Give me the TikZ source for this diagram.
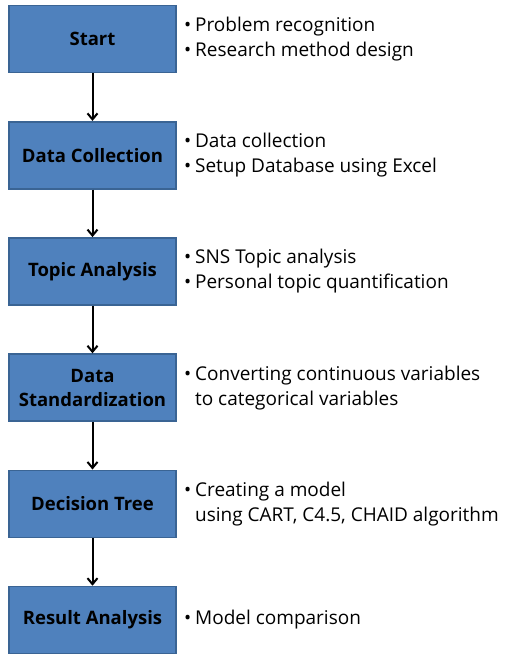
\documentclass[tikz,border=0pt]{standalone}
\usepackage{fontspec}
\setmainfont{Open Sans}
\usepackage{tikz}
\usetikzlibrary{arrows.meta,positioning}
\definecolor{boxfill}{HTML}{4F81BD}
\definecolor{boxline}{HTML}{3A6494}
\tikzset{>={Straight Barb[length=6pt,width=10pt]}}
\tikzset{
  stage/.style={draw=boxline, line width=1.6pt, fill=boxfill, minimum width=167pt,
    minimum height=67pt, align=center, font=\fontsize{18.5}{24}\selectfont\bfseries,
    inner sep=2pt},
  note/.style={anchor=west, align=left, font=\fontsize{19}{25}\selectfont, inner sep=0pt},
  flow/.style={->, line width=2pt}
}
\newcommand{\itm}{\textbullet\hspace{4pt}}
\newcommand{\cnt}{\phantom{\textbullet}\hspace{4pt}}

\begin{document}
\begin{tikzpicture}[x=1pt,y=1pt]
  \useasboundingbox (0,0) rectangle (509,-654);

  \node[stage] (start) at (92.5,-39) {Start};
  \node[stage, below=47.6pt of start] (collect) {Data Collection};
  \node[stage, below=47.6pt of collect] (topic) {Topic Analysis};
  \node[stage, below=47.6pt of topic] (standard) {Data\\Standardization};
  \node[stage, below=47.6pt of standard] (tree) {Decision Tree};
  \node[stage, below=47.6pt of tree] (result) {Result Analysis};

  % arrows between the stages
  \draw[flow] (start) -- (collect);
  \draw[flow] (collect) -- (topic);
  \draw[flow] (topic) -- (standard);
  \draw[flow] (standard) -- (tree);
  \draw[flow] (tree) -- (result);

  % notes on the right
  \node[note, right=7pt of start] (startnote) {\itm Problem recognition\\\itm Research method design};
  \node[note, right=7pt of collect] (collectnote) {\itm Data collection\\\itm Setup Database using Excel};
  \node[note, right=7pt of topic] (topicnote) {\itm SNS Topic analysis\\\itm Personal topic quantification};
  \node[note, right=7pt of standard] (standardnote) {\itm Converting continuous variables\\\cnt to categorical variables};
  \node[note, right=7pt of tree] (treenote) {\itm Creating a model\\\cnt using CART, C4.5, CHAID algorithm};
  \node[note, right=7pt of result] (resultnote) {\itm Model comparison};
\end{tikzpicture}
\end{document}
